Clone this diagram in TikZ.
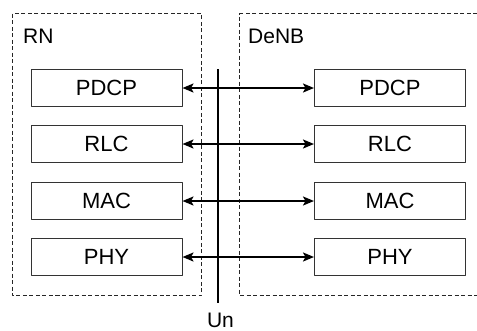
\documentclass[tikz,border=0pt]{standalone}
\usepackage{fontspec}
\setmainfont{Liberation Sans}
\usetikzlibrary{arrows.meta}
\begin{document}
\begin{tikzpicture}[x=1pt,y=-1pt,line join=round,>={Stealth[length=11pt,width=9pt,inset=2.5pt]},
	layer/.style={draw=black!80,line width=1pt,minimum width=151pt,minimum height=37pt,inner sep=0pt,font=\fontsize{22}{26}\selectfont},
	zone/.style={draw=black!85,line width=1pt,dash pattern=on 4pt off 2.5pt},
	side/.style={anchor=base west,inner sep=0pt,font=\fontsize{21}{25}\selectfont}]
	\useasboundingbox (0,0) rectangle (477,330);
	%RN và DeNB
	\draw[zone] (12.5,13.5) rectangle (201.5,295.5);
	\draw[zone] (477,13.5) -- (239.5,13.5) -- (239.5,295.5) -- (477,295.5);
	\node[side] (RN) at (23,43) {RN};
	\node[side] (DeNB) at (248,43) {DeNB};
	%giao diện Un
	\coordinate (UnTop) at (218,69);
	\coordinate (UnEnd) at (218,303);
	\node[anchor=base,inner sep=0pt,font=\fontsize{21}{25}\selectfont] (Un) at (220.5,327) {Un};
	\draw[line width=2pt] (UnTop) -- (UnEnd);
	\foreach \p/\y in {PDCP/88,RLC/144,MAC/201,PHY/257}
	{\node[layer] (RN\p) at (106.5,\y) {\p};
		\node[layer] (DeNB\p) at (390,\y) {\p};
		\draw[<->,line width=2pt] (RN\p) -- (DeNB\p);}
\end{tikzpicture}
\end{document}
